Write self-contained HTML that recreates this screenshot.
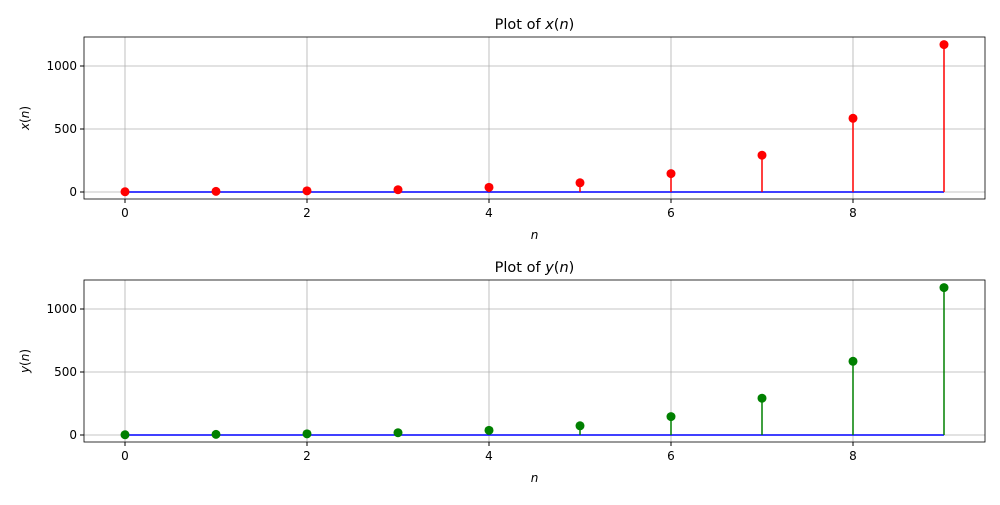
<!DOCTYPE html>
<html><head><meta charset="utf-8"><style>
body{margin:0;background:#fff;font-family:"Liberation Sans","DejaVu Sans",sans-serif}
svg text{font-family:"DejaVu Sans","Liberation Sans",sans-serif}
</style></head><body>
<svg id="c" width="1000" height="500"></svg>
<script>
const nVals=[0,1,2,3,4,5,6,7,8,9];
const xVals=[2,5,9,18,37,73,146,292,585,1170];
const yVals=[2,5,9,18,37,73,146,292,585,1170];
const xTicks=[0,2,4,6,8];
const yTicks=[0,500,1000];
const svg=document.getElementById('c');
const NS='http://www.w3.org/2000/svg';
function mk(t,a,p){const e=document.createElementNS(NS,t);for(const k in a)e.setAttribute(k,a[k]);(p||svg).appendChild(e);return e;}
function panel(top,vals,color,title,ylab,name){
  const L=84,R=985,T=top,B=top+162;
  const sx=v=>125+v*91;
  const sy=v=>B-7-v*0.126;
  const g=mk('g',{});
  
  
  xTicks.forEach(t=>{mk('line',{x1:sx(t),x2:sx(t),y1:T,y2:B,stroke:'#b0b0b0','stroke-width':0.8},g);
    mk('line',{x1:sx(t),x2:sx(t),y1:B,y2:B+4,stroke:'#000'},g);
    const tx=mk('text',{x:sx(t),y:B+18,'text-anchor':'middle','font-size':12},g);tx.textContent=t;
    });
  yTicks.forEach(t=>{mk('line',{x1:L,x2:R,y1:sy(t),y2:sy(t),stroke:'#b0b0b0','stroke-width':0.8},g);
    mk('line',{x1:L-4,x2:L,y1:sy(t),y2:sy(t),stroke:'#000'},g);
    const tx=mk('text',{x:L-7,y:sy(t)+4,'text-anchor':'end','font-size':12},g);tx.textContent=t;
    });
  mk('line',{x1:sx(nVals[0]),x2:sx(nVals[nVals.length-1]),y1:sy(0),y2:sy(0),stroke:'#0000ff','stroke-width':1.5},g);
  nVals.forEach((n,i)=>{
    const s=mk('line',{x1:sx(n),x2:sx(n),y1:sy(0),y2:sy(vals[i]),stroke:color,'stroke-width':1.5},g);
    
    const c=mk('circle',{cx:sx(n),cy:sy(vals[i]),r:4.5,fill:color},g);
    
  });
  mk('rect',{x:L,y:T,width:R-L,height:B-T,fill:'none',stroke:'#000','stroke-width':0.8},g);
  const ti=mk('text',{x:(L+R)/2,y:T-8,'text-anchor':'middle','font-size':14.5},g);
  ti.innerHTML='Plot of <tspan font-style="italic">'+title+'</tspan>(<tspan font-style="italic">n</tspan>)';
  
  const xl=mk('text',{x:(L+R)/2,y:B+40,'text-anchor':'middle','font-size':12,'font-style':'italic'},g);xl.textContent='n';
  
  const yl=mk('text',{x:0,y:0,'text-anchor':'middle','font-size':12,transform:`translate(${L-55},${(T+B)/2}) rotate(-90)`},g);
  yl.innerHTML='<tspan font-style="italic">'+ylab+'</tspan>(<tspan font-style="italic">n</tspan>)';
  
}
panel(37,xVals,'#ff0000','x','x','x-panel');
panel(280,yVals,'#008000','y','y','y-panel');
</script>
</body></html>
